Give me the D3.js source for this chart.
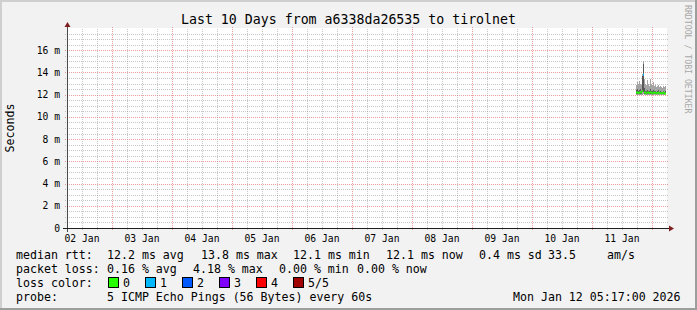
<!DOCTYPE html>
<html>
<head>
<meta charset="utf-8">
<script src="https://cdn.jsdelivr.net/npm/d3@7"></script>
<style>
  body { margin: 0; background: #f2f2f2; }
  svg { display: block; }
  text { font-family: "DejaVu Sans Mono", monospace; fill: #000; }
</style>
</head>
<body>
<svg id="chart" width="697" height="310"></svg>
<script>
const titleText = "Last 10 Days from a6338da26535 to tirolnet";
const dayLabels = ["02 Jan", "03 Jan", "04 Jan", "05 Jan", "06 Jan", "07 Jan", "08 Jan", "09 Jan", "10 Jan", "11 Jan"];
const yTickValues = [0, 2, 4, 6, 8, 10, 12, 14, 16];
const yTickLabels = ["0", "2 m", "4 m", "6 m", "8 m", "10 m", "12 m", "14 m", "16 m"];

// rtt of the 5 pings per step (ms), sorted low -> high
const pingStart = "2026-01-11T17:36:00Z";
const pingStepMinutes = 24;
const ping1 = [12.0, 12.0, 11.95, 12.0, 12.0, 12.0, 12.0, 12.1, 12.0, 12.0, 11.95, 12.0, 12.0, 12.0, 12.0, 12.0, 11.95, 12.0, 12.0, 12.0, 12.0, 12.0, 12.0, 11.95, 12.0, 12.0, 12.0, 12.0, 12.0, 12.0];
const ping2 = [12.1, 12.1, 12.1, 12.1, 12.1, 12.1, 12.2, 12.2, 12.1, 12.1, 12.05, 12.1, 12.1, 12.1, 12.1, 12.1, 12.05, 12.1, 12.1, 12.1, 12.05, 12.1, 12.1, 12.05, 12.1, 12.05, 12.1, 12.1, 12.05, 12.1];
const ping3 = [12.2, 12.2, 12.15, 12.2, 12.25, 12.2, 12.3, 13.8, 12.2, 12.2, 12.1, 12.2, 12.2, 12.15, 12.2, 12.2, 12.1, 12.2, 12.15, 12.2, 12.1, 12.15, 12.2, 12.1, 12.15, 12.1, 12.15, 12.2, 12.1, 12.1];
const ping4 = [12.4, 12.5, 12.3, 12.4, 12.5, 12.3, 13.7, 14.8, 12.6, 12.3, 12.3, 12.4, 12.3, 12.3, 12.5, 12.3, 12.3, 12.4, 12.3, 12.3, 12.2, 12.3, 12.4, 12.2, 12.3, 12.2, 12.25, 12.3, 12.2, 12.3];
const ping5 = [12.9, 13.1, 13.0, 13.2, 13.0, 12.9, 13.9, 15.0, 13.4, 13.0, 12.9, 13.3, 13.0, 12.8, 13.4, 13.0, 12.9, 13.1, 12.8, 12.9, 12.7, 12.8, 12.9, 12.7, 12.8, 12.7, 12.6, 12.8, 12.7, 12.8];
const lossCount = [0, 0, 0, 0, 0, 0, 0, 1, 0, 0, 0, 0, 0, 0, 0, 0, 0, 0, 0, 0, 0, 0, 0, 0, 0, 0, 0, 0, 0, 0];

const lossLevels = ["0", "1", "2", "3", "4", "5/5"];
const lossColors = ["#26ff00", "#00b8ff", "#0059ff", "#7e00ff", "#ff0000", "#a10000"];

const rttStats = ["median rtt:", "12.2 ms avg", "13.8 ms max", "12.1 ms min", "12.1 ms now", "0.4 ms sd", "33.5", "am/s"];
const lossStats = ["packet loss:", "0.16 % avg", "4.18 % max", "0.00 % min", "0.00 % now"];
const probeText = ["probe:", "5 ICMP Echo Pings (56 Bytes) every 60s"];
const dateText = "Mon Jan 12 05:17:00 2026";

const W = 697, H = 310;
const X0 = 67, XS = 600, Y0 = 228, YS = 200;

const svg = d3.select("#chart");

// frame
svg.append("rect").attr("width", W).attr("height", H).attr("fill", "#f2f2f2");
svg.append("path").attr("d", `M0,0H${W}V2H2V${H}H0Z`).attr("fill", "#cfcfcf");
svg.append("path").attr("d", `M${W},${H}H0V${H - 2}H${W - 2}V0H${W}Z`).attr("fill", "#9e9e9e");

const t0 = new Date(Date.UTC(2026, 0, 2, 6));
const t1 = new Date(Date.UTC(2026, 0, 12, 6));
const x = d3.scaleUtc().domain([t0, t1]).range([X0, X0 + XS]);
const y = d3.scaleLinear().domain([0, 18]).range([Y0, Y0 - YS]);

svg.append("rect").attr("x", X0).attr("y", Y0 - YS).attr("width", XS).attr("height", YS).attr("fill", "#fff");

const grid = svg.append("g").attr("shape-rendering", "crispEdges").attr("stroke-dasharray", "1,1");
const minorCol = "rgba(143,143,143,0.5)", majorCol = "rgba(222,79,79,0.55)";

// horizontal grid
d3.range(0.5, 18, 0.5).forEach(v => {
  const major = v % 2 === 0;
  grid.append("line")
    .attr("x1", X0 - 2).attr("x2", X0 + XS + 2)
    .attr("y1", Math.round(y(v)) + 0.5).attr("y2", Math.round(y(v)) + 0.5)
    .attr("stroke", major ? majorCol : minorCol);
});
// vertical grid
d3.utcHour.every(6).range(t0, t1).forEach(t => {
  const major = t.getUTCHours() === 0;
  const px = Math.round(x(t)) + 0.5;
  if (px <= X0 + 1) return;
  grid.append("line")
    .attr("x1", px).attr("x2", px)
    .attr("y1", Y0 + 2).attr("y2", Y0 - YS - (major ? 2 : 0))
    .attr("stroke", major ? majorCol : minorCol);
});

// smoke + median
const start = new Date(pingStart);
const pts = ping3.map((m, i) => {
  const ta = new Date(start.getTime() + i * pingStepMinutes * 60000);
  const tb = new Date(ta.getTime() + pingStepMinutes * 60000);
  return { ta, tb, p1: ping1[i], p2: ping2[i], p3: m, p4: ping4[i], p5: ping5[i], loss: lossCount[i] };
});
const plot = svg.append("g").attr("shape-rendering", "crispEdges");
plot.selectAll("rect.outer").data(pts).join("rect")
  .attr("x", d => x(d.ta)).attr("width", d => x(d.tb) - x(d.ta))
  .attr("y", d => y(d.p5)).attr("height", d => y(d.p1) - y(d.p5))
  .attr("fill", "#a4a4a4");
plot.selectAll("rect.inner").data(pts).join("rect")
  .attr("x", d => x(d.ta)).attr("width", d => x(d.tb) - x(d.ta))
  .attr("y", d => y(d.p4)).attr("height", d => y(d.p2) - y(d.p4))
  .attr("fill", "#585858");
svg.append("g").selectAll("line").data(pts).join("line")
  .attr("x1", d => x(d.ta)).attr("x2", d => x(d.tb))
  .attr("y1", d => y(d.p3)).attr("y2", d => y(d.p3))
  .attr("stroke", d => lossColors[d.loss]).attr("stroke-width", 2);

// axes
svg.append("line").attr("x1", X0 - 4).attr("x2", X0 + XS + 4).attr("y1", Y0 + 0.5).attr("y2", Y0 + 0.5)
  .attr("stroke", "#1f1f1f").attr("shape-rendering", "crispEdges");
svg.append("line").attr("x1", X0 + 0.5).attr("x2", X0 + 0.5).attr("y1", Y0 + 4).attr("y2", Y0 - YS - 4)
  .attr("stroke", "#1f1f1f").attr("stroke-opacity", 0.8).attr("shape-rendering", "crispEdges");
svg.append("path").attr("d", `M${X0 + XS + 2},${Y0 - 2.5}L${X0 + XS + 2},${Y0 + 3.5}L${X0 + XS + 7},${Y0 + 0.5}Z`).attr("fill", "#801f1f");
svg.append("path").attr("d", `M${X0 - 2.5},${Y0 - YS - 1}L${X0 + 3.5},${Y0 - YS - 1}L${X0 + 0.5},${Y0 - YS - 6}Z`).attr("fill", "#801f1f");

// y tick labels
svg.append("g").selectAll("text").data(yTickValues).join("text")
  .attr("x", X0 - 7).attr("y", d => y(d) + 3.5)
  .attr("text-anchor", "end").attr("font-size", "9.7px")
  .text((d, i) => yTickLabels[i]);

// x tick labels at noon
svg.append("g").selectAll("text").data(dayLabels).join("text")
  .attr("x", (d, i) => x(d3.utcHour.offset(d3.utcDay.offset(d3.utcDay.floor(t0), i), 12)))
  .attr("y", Y0 + 14)
  .attr("text-anchor", "middle").attr("font-size", "9.7px")
  .text(d => d);

// title, unit, watermark
svg.append("text").attr("x", W / 2).attr("y", 23.5).attr("text-anchor", "middle")
  .attr("font-size", "13.25px").text(titleText);
svg.append("text").attr("transform", `translate(14,${Y0 - YS / 2}) rotate(-90)`)
  .attr("text-anchor", "middle").attr("font-size", "11.6px").text("Seconds");
svg.append("text").attr("transform", "translate(685,5) rotate(90)")
  .attr("font-size", "8.2px").style("fill", "#a8a8a8").text("RRDTOOL / TOBI OETIKER");

// legend
const fs = "11.6px";
const row = (items, xs, yy) => items.forEach((t, i) =>
  svg.append("text").attr("x", xs[i]).attr("y", yy).attr("font-size", fs).text(t));
row(rttStats, [16, 107, 201, 293, 386, 479, 548, 607], 258.5);
row(lossStats, [16, 107, 193, 279, 357], 272.5);
svg.append("text").attr("x", 16).attr("y", 286.5).attr("font-size", fs).text("loss color:");
lossLevels.forEach((l, i) => {
  const bx = 108 + i * 37;
  svg.append("rect").attr("x", bx + 0.5).attr("y", 277.5).attr("width", 10).attr("height", 10)
    .attr("fill", lossColors[i]).attr("stroke", "#000").attr("shape-rendering", "crispEdges");
  svg.append("text").attr("x", bx + 15).attr("y", 286.5).attr("font-size", fs).text(l);
});
row(probeText, [16, 107], 300.5);
svg.append("text").attr("x", 513).attr("y", 300.5).attr("font-size", fs).text(dateText);
</script>
</body>
</html>
